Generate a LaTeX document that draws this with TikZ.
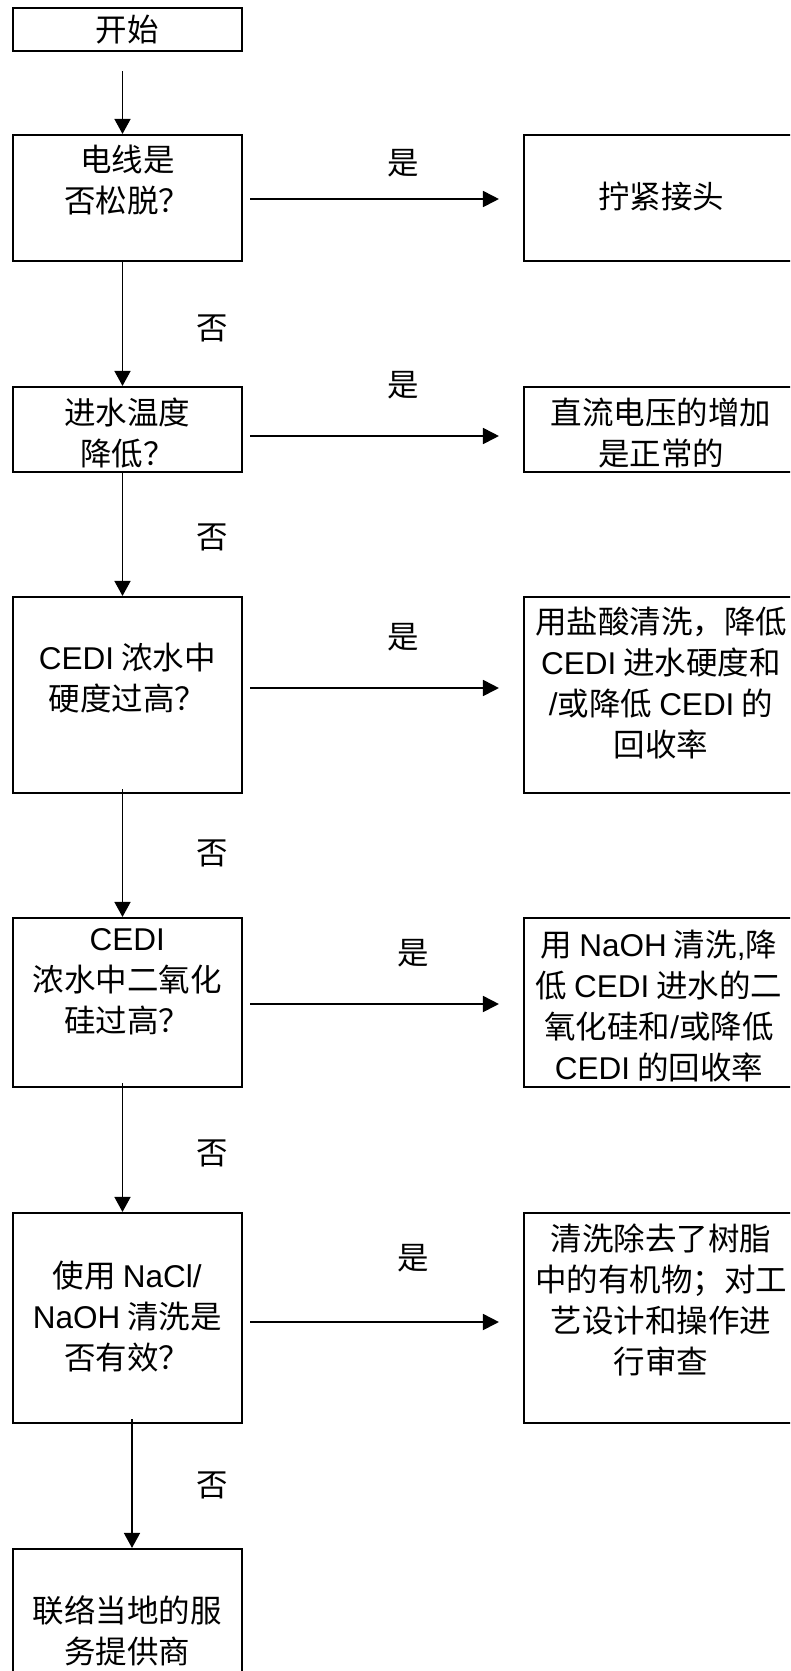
\documentclass[tikz,border=0pt]{standalone}
\usepackage{fontspec}
\setmainfont{Noto Sans CJK SC}
\newfontfamily\latfont{Liberation Sans}
\newcommand\Lsans[1]{{\latfont #1}}
\usetikzlibrary{arrows.meta}
\begin{document}
\begin{tikzpicture}[x=1pt,y=-1pt,
  boxst/.style={draw,line width=2.1pt,rectangle,inner sep=0pt},
  txt/.style={align=center,inner sep=0pt,font=\fontsize{31.5}{41}\selectfont},
  lbl/.style={inner sep=0pt,font=\fontsize{31.5}{41}\selectfont},
  harr/.style={line width=1.8pt,-{Triangle[length=16pt,width=16pt]}},
  varr/.style={line width=1.5pt,-{Triangle[length=15pt,width=16pt]}}]
\useasboundingbox (0,0) rectangle (790,1671);
\clip (0,0) rectangle (790,1671);
\fill[white] (0,0) rectangle (790,1671);
% left boxes
\node[boxst,minimum width=229.4pt,minimum height=42.7pt] (start) at (127.3,29.7) {};
\node[boxst,minimum width=229.4pt,minimum height=126pt] (b1) at (127.3,198) {};
\node[boxst,minimum width=229.4pt,minimum height=85pt] (b2) at (127.3,429.5) {};
\node[boxst,minimum width=229.4pt,minimum height=196pt] (b3) at (127.3,695) {};
\node[boxst,minimum width=229.4pt,minimum height=169pt] (b4) at (127.3,1002.5) {};
\node[boxst,minimum width=229.4pt,minimum height=210pt] (b5) at (127.3,1318) {};
\node[boxst,minimum width=229.4pt,minimum height=151pt] (b6) at (127.3,1624.5) {};
% right boxes
\node[boxst,minimum width=274pt,minimum height=126pt] (r1) at (661,198) {};
\node[boxst,minimum width=274pt,minimum height=85pt] (r2) at (661,429.5) {};
\node[boxst,minimum width=274pt,minimum height=196pt] (r3) at (661,695) {};
\node[boxst,minimum width=274pt,minimum height=169pt] (r4) at (661,1002.5) {};
\node[boxst,minimum width=274pt,minimum height=210pt] (r5) at (661,1318) {};
% texts
\node[txt] (tstart) at (127.3,30) {开始};
\node[txt] (t1) at (127.3,180) {电线是\\否松脱？};
\node[txt] (t2) at (127.3,433) {进水温度\\降低？};
\node[txt] (t3) at (127.3,678) {\Lsans{CEDI} 浓水中\\硬度过高？};
\node[txt] (t4) at (127.3,982) {\Lsans{CEDI}\\浓水中二氧化\\硅过高？};
\node[txt] (t5) at (127.3,1317) {使用 \Lsans{NaCl/}\\\Lsans{NaOH} 清洗是\\否有效？};
\node[txt] (t6) at (127.3,1631) {联络当地的服\\务提供商};
\node[txt] (s1) at (661,197) {拧紧接头};
\node[txt] (s2) at (661,433) {直流电压的增加\\是正常的};
\node[txt] (s3) at (661,683) {用盐酸清洗，降低\\\Lsans{CEDI} 进水硬度和\\\Lsans{/}或降低 \Lsans{CEDI} 的\\回收率};
\node[txt] (s4) at (659,1006) {用 \Lsans{NaOH} 清洗\Lsans{,}降\\低 \Lsans{CEDI} 进水的二\\氧化硅和\Lsans{/}或降低\\\Lsans{CEDI} 的回收率};
\node[txt] (s5) at (661,1300) {清洗除去了树脂\\中的有机物；对工\\艺设计和操作进\\行审查};
% labels
\node[lbl] (y1) at (403,163) {是};
\node[lbl] (y2) at (403,385) {是};
\node[lbl] (y3) at (403,637) {是};
\node[lbl] (y4) at (413,953) {是};
\node[lbl] (y5) at (413,1258) {是};
\node[lbl] (n1) at (212,328) {否};
\node[lbl] (n2) at (212,537) {否};
\node[lbl] (n3) at (212,853) {否};
\node[lbl] (n4) at (212,1153) {否};
\node[lbl] (n5) at (212,1485) {否};
% helper coordinates
\coordinate (v1) at (122.5,0);
\coordinate (v2) at (132,0);
\coordinate (h1) at (0,199);
\coordinate (h2) at (0,436);
\coordinate (h3) at (0,688);
\coordinate (h4) at (0,1004);
\coordinate (h5) at (0,1322);
% vertical arrows
\draw[varr] (start.south -| v1) ++(0,19) -- (b1.north -| v1);
\draw[varr] (b1.south -| v1) -- (b2.north -| v1);
\draw[varr] (b2.south -| v1) -- (b3.north -| v1);
\draw[varr] (b3.south -| v1) ++(0,-5) -- (b4.north -| v1);
\draw[varr] (b4.south -| v1) ++(0,-5) -- (b5.north -| v1);
\draw[varr] (b5.south -| v2) ++(0,-5) -- (b6.north -| v2);
% horizontal arrows
\draw[harr,shorten <=7pt,shorten >=24pt] (b1.east |- h1) -- (r1.west |- h1);
\draw[harr,shorten <=7pt,shorten >=24pt] (b2.east |- h2) -- (r2.west |- h2);
\draw[harr,shorten <=7pt,shorten >=24pt] (b3.east |- h3) -- (r3.west |- h3);
\draw[harr,shorten <=7pt,shorten >=24pt] (b4.east |- h4) -- (r4.west |- h4);
\draw[harr,shorten <=7pt,shorten >=24pt] (b5.east |- h5) -- (r5.west |- h5);
\end{tikzpicture}
\end{document}
